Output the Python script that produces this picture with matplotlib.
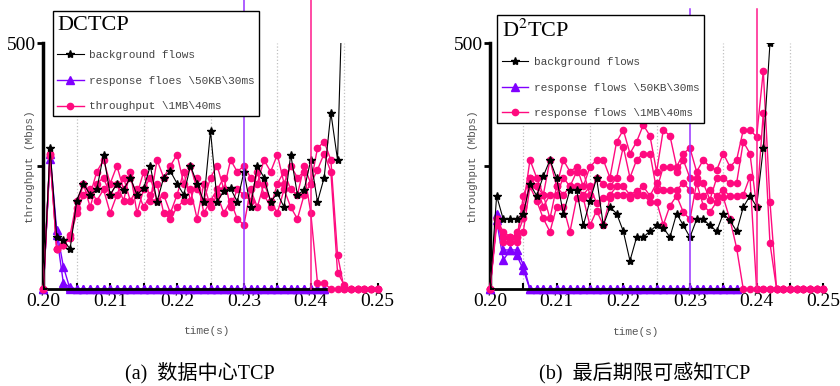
import matplotlib
matplotlib.use('Agg')
import matplotlib.pyplot as plt
from matplotlib.ticker import FormatStrFormatter
import numpy as np

plt.rcParams['mathtext.fontset'] = 'stix'

# time axis: one sample per ms, 0.200 .. 0.250 s
t = np.round(np.arange(0.200, 0.2505, 0.001), 3)

# ---------------- (a) DCTCP ----------------
dc_black = [0, 287, 106, 100, 82, 180, 215, 192, 203, 274, 192, 215, 202, 227, 192, 205,
            251, 178, 227, 240, 215, 192, 251, 215, 178, 322, 178, 200, 205, 178, 239, 167,
            251, 227, 178, 195, 167, 274, 192, 202, 263, 178, 227, 359, 263, 740]
dc_resp1 = [0, 276, 120, 46, 0, 0, 0, 0, 0, 0, 0, 0, 0, 0, 0, 0, 0, 0, 0, 0, 0, 0,
            0, 0, 0, 0, 0, 0, 0, 0, 0, 0, 0, 0, 0, 0, 0, 0, 0, 0, 0, 0, 0]
dc_resp2 = [0, 265, 110, 12, 5, 0, 0, 0, 0, 0, 0, 0, 0, 0, 0, 0, 0, 0, 0, 0, 0, 0,
            0, 0, 0, 0, 0, 0, 0, 0, 0, 0, 0, 0, 0, 0, 0, 0, 0, 0, 0, 0, 0]
dc_big1 = [0, 276, 82, 90, 105, 165, 215, 192, 239, 263, 215, 251, 203, 227, 192, 239,
           180, 263, 227, 251, 274, 215, 251, 203, 180, 227, 251, 203, 263, 239, 251, 227,
           215, 263, 239, 274, 215, 251, 227, 239, 155, 13, 13, 0, 0, 0, 0, 0, 0, 0, 0]
dc_big2 = [0, 270, 82, 90, 110, 180, 215, 167, 215, 227, 192, 215, 180, 239, 155, 203,
           227, 180, 192, 155, 192, 239, 180, 227, 155, 180, 203, 227, 167, 203, 192, 180,
           239, 192, 167, 215, 239, 203, 192, 251, 215, 287, 300, 263, 70, 0, 0, 0, 0, 0, 0]
dc_big3 = [0, 276, 82, 90, 105, 155, 192, 203, 180, 203, 155, 192, 227, 180, 203, 167,
           192, 215, 155, 143, 167, 180, 203, 143, 215, 167, 192, 155, 180, 143, 131, 203,
           167, 215, 180, 155, 203, 167, 143, 192, 215, 243, 276, 239, 34, 9, 0, 0, 0, 0, 0]

# ---------------- (b) D2TCP ----------------
d2_black = [0, 190, 142, 142, 142, 154, 214, 190, 230, 263, 226, 154, 202, 202, 130, 180,
            226, 130, 167, 154, 118, 58, 106, 106, 118, 130, 125, 106, 154, 130, 106, 142,
            142, 130, 118, 154, 140, 118, 167, 190, 168, 287, 500]
d2_resp1 = [0, 154, 80, 80, 80, 50, 0, 0, 0, 0, 0, 0, 0, 0, 0, 0, 0, 0, 0,
            0, 0, 0, 0, 0, 0, 0, 0, 0, 0, 0, 0, 0, 0, 0, 0, 0, 0, 0]
d2_resp2 = [0, 140, 59, 80, 70, 40, 0, 0, 0, 0, 0, 0, 0, 0, 0, 0, 0, 0, 0,
            0, 0, 0, 0, 0, 0, 0, 0, 0, 0, 0, 0, 0, 0, 0, 0, 0, 0, 0]
d2_big1 = [0, 142, 107, 97, 117, 117, 209, 180, 144, 117, 168, 168, 117, 185, 185, 130,
           160, 130, 185, 192, 192, 185, 192, 192, 178, 178, 131, 170, 190, 157, 142, 216,
           170, 157, 178, 187, 142, 84, 0, 0, 0, 0, 0, 0, 0, 0, 0, 0, 0, 0, 0]
d2_big2 = [0, 142, 97, 107, 107, 168, 263, 227, 192, 263, 209, 263, 239, 249, 209, 249,
           263, 263, 227, 300, 324, 276, 300, 334, 312, 239, 324, 312, 249, 276, 287, 239,
           263, 249, 242, 276, 249, 263, 324, 324, 310, 444, 178, 0, 0, 0, 0, 0, 0, 0, 0]
d2_big3 = [0, 130, 107, 97, 107, 144, 227, 209, 168, 192, 192, 227, 209, 239, 239, 192,
           227, 215, 209, 227, 290, 227, 263, 276, 276, 202, 249, 249, 239, 263, 226, 226,
           216, 182, 226, 226, 216, 216, 300, 276, 168, 359, 94, 0, 0, 0, 0, 0, 0, 0, 0]
d2_big4 = [0, 142, 117, 107, 97, 190, 227, 209, 192, 144, 209, 192, 209, 209, 192, 209,
           175, 185, 192, 209, 209, 192, 200, 209, 190, 216, 202, 202, 202, 216, 202, 190,
           190, 202, 190, 202, 190, 190, 192, 229, 0, 0, 0, 0, 0, 0, 0, 0, 0, 0, 0]

BLACK = '#000000'
PURPLE = '#8000FF'
PINK = '#FF0A7F'
SERIF = ['Liberation Serif', 'Noto Sans CJK SC']
MONO = 'Liberation Mono'

fig = plt.figure(figsize=(8.4, 3.86), dpi=100)
ax1 = fig.add_axes([0.0516, 0.2505, 0.398, 0.6373])
ax2 = fig.add_axes([0.5833, 0.2505, 0.3968, 0.6373])


def draw(ax, black, resp, big, labels, title, anchor, vtop):
    handles = []
    for i, s in enumerate(resp):
        ln, = ax.plot(t[:len(s)], s, color=PURPLE, marker='^', ms=5.5, lw=1, zorder=2,
                      clip_on=False)
    handles.append(ln)
    for i, s in enumerate(big):
        lp, = ax.plot(t[:len(s)], s, color=PINK, marker='o', ms=4.5, lw=1, zorder=3,
                      clip_on=False)
    handles.append(lp)
    lb, = ax.plot(t[:len(black)], black, color=BLACK, marker='*', ms=6, lw=0.8, zorder=4)
    handles.insert(0, lb)

    # deadlines
    ax.axvline(0.23, ymin=0, ymax=vtop, color='#9933FF', lw=1.1, clip_on=False, zorder=5)
    ax.axvline(0.24, ymin=0, ymax=vtop, color='#FF1A8C', lw=1.1, clip_on=False, zorder=5)
    for g in [0.205, 0.215, 0.225, 0.235, 0.245]:
        ax.axvline(g, color='#c0c0c0', ls=':', lw=0.9, zorder=0)

    ax.set_xlim(0.2, 0.25)
    ax.set_ylim(0, 500)
    ax.set_xticks(np.arange(0.20, 0.2501, 0.01))
    ax.set_xticks(np.arange(0.205, 0.25, 0.01), minor=True)
    ax.xaxis.set_major_formatter(FormatStrFormatter('%.2f'))
    ax.set_yticks([250, 500], ['', '500'])
    ax.tick_params(axis='x', which='both', direction='in', length=4, width=1.5,
                   labelsize=14, pad=3)
    ax.tick_params(axis='y', direction='out', length=4, width=2, labelsize=14, pad=1)
    for lab in ax.get_xticklabels() + ax.get_yticklabels():
        lab.set_family(SERIF)
    for side in ['top', 'right']:
        ax.spines[side].set_visible(False)
    ax.spines['left'].set_linewidth(2.5)
    ax.spines['bottom'].set_linewidth(2)

    leg = ax.legend(handles, labels, loc='upper left', bbox_to_anchor=anchor,
                    borderaxespad=0, title=title, alignment='left', frameon=True,
                    fancybox=False, edgecolor='black', framealpha=1, handlelength=2.4,
                    handletextpad=0.5, labelspacing=1.4, borderpad=0.4,
                    prop={'family': MONO, 'size': 8})
    leg.get_frame().set_linewidth(1)
    leg.get_title().set_fontfamily(SERIF)
    leg.get_title().set_fontsize(16)
    for txt in leg.get_texts():
        txt.set_color('#444444')
    leg.set_zorder(10)


draw(ax1, dc_black, [dc_resp1, dc_resp2], [dc_big1, dc_big2, dc_big3],
     ['background flows', r'response floes \50KB\30ms', r'throughput \1MB\40ms'],
     'DCTCP', (0.028, 1.13), 1.176)
draw(ax2, d2_black, [d2_resp1, d2_resp2], [d2_big1, d2_big2, d2_big3, d2_big4],
     ['background flows', r'response flows \50KB\30ms', r'response flows \1MB\40ms'],
     r'D$^2$TCP', (0.022, 1.115), 1.14)

# axis labels
for x, y in [(30, 167), (473, 167)]:
    fig.text(x / 840, 1 - y / 386, 'throughput (Mbps)', rotation=90, ha='center',
             va='center', family=MONO, size=8, color='#555555')
for x, y in [(207, 331), (636, 332)]:
    fig.text(x / 840, 1 - y / 386, 'time(s)', ha='center', va='center',
             family=MONO, size=8, color='#555555')

# captions
fig.text(200 / 840, 1 - 373 / 386, '(a)  数据中心TCP', ha='center', va='center',
         family=SERIF, size=14.5)
fig.text(645 / 840, 1 - 373 / 386, '(b)  最后期限可感知TCP', ha='center', va='center',
         family=SERIF, size=14.5)

fig.savefig('out.png', dpi=100)
